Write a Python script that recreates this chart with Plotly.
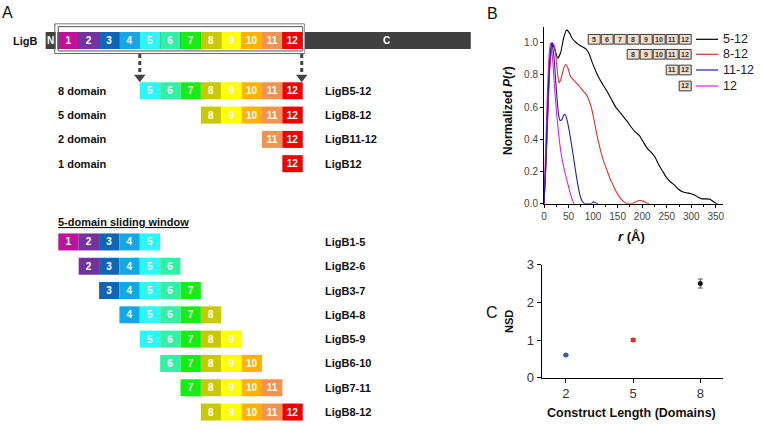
import plotly.graph_objects as go

W, H = 767, 431
FONT = "Liberation Sans, Arial, sans-serif"

# ---------------- DATA ----------------
domain_colors = {1: '#BF109E', 2: '#7233A0', 3: '#0E66B5', 4: '#14A6E6', 5: '#2CF6F6',
                 6: '#33F0A6', 7: '#14EE14', 8: '#C9C900', 9: '#FFFF00', 10: '#FFB300',
                 11: '#F49350', 12: '#F00000'}
ligb_domains = list(range(1, 13))

construct_labels = ["8 domain", "5 domain", "2 domain", "1 domain"]
construct_names = ["LigB5-12", "LigB8-12", "LigB11-12", "LigB12"]
construct_first = [5, 8, 11, 12]
construct_last = [12, 12, 12, 12]

window_first = [1, 2, 3, 4, 5, 6, 7, 8]
window_names = ["LigB1-5", "LigB2-6", "LigB3-7", "LigB4-8", "LigB5-9", "LigB6-10", "LigB7-11", "LigB8-12"]
window_size = 5

# P(r) curves
r_5_12 = [0, 4, 8, 12, 17, 22, 28, 34, 40, 46, 52, 58, 64, 70, 78, 86, 92, 98, 106, 114, 122, 130,
          138, 146, 154, 162, 170, 178, 186, 194, 202, 210, 218, 226, 234, 242, 250, 258, 266, 274,
          282, 290, 298, 306, 314, 322, 330, 338, 344, 350, 354]
p_5_12 = [0, 0.25, 0.6, 0.88, 1.0, 0.96, 0.905, 0.94, 1.03, 1.08, 1.06, 1.025, 1.005, 0.99, 0.975,
          0.96, 0.93, 0.88, 0.82, 0.77, 0.73, 0.69, 0.645, 0.60, 0.57, 0.54, 0.51, 0.475, 0.445,
          0.425, 0.385, 0.345, 0.32, 0.29, 0.24, 0.2, 0.16, 0.135, 0.115, 0.09, 0.075, 0.068, 0.063,
          0.055, 0.04, 0.03, 0.03, 0.028, 0.015, 0.003, 0]

r_8_12 = [0, 4, 8, 12, 17, 20, 24, 28, 31, 35, 40, 44, 48, 54, 60, 66, 72, 80, 87, 92, 97, 102, 107,
          112, 117, 122, 128, 134, 140, 146, 152, 158, 164, 170, 178, 186, 194, 202, 208, 214]
p_8_12 = [0, 0.25, 0.58, 0.85, 0.98, 0.99, 0.92, 0.8, 0.75, 0.78, 0.84, 0.865, 0.85, 0.79, 0.77,
          0.75, 0.73, 0.70, 0.675, 0.64, 0.59, 0.52, 0.44, 0.37, 0.31, 0.26, 0.21, 0.16, 0.12, 0.08,
          0.05, 0.025, 0.008, 0, 0, 0.01, 0.02, 0.016, 0.006, 0]

r_11_12 = [0, 4, 8, 12, 16, 20, 24, 28, 32, 36, 40, 43, 47, 51, 56, 61, 66, 70, 74, 78, 83, 96, 101, 106, 110]
p_11_12 = [0, 0.3, 0.65, 0.9, 1.0, 0.92, 0.76, 0.6, 0.52, 0.52, 0.55, 0.555, 0.52, 0.46, 0.37, 0.27,
           0.17, 0.1, 0.045, 0.015, 0, 0, 0.012, 0.004, 0]

r_12 = [0, 3, 7, 11, 14, 18, 22, 26, 30, 34, 38, 43, 48, 53, 57, 61]
p_12 = [0, 0.3, 0.7, 0.95, 1.0, 0.88, 0.7, 0.55, 0.43, 0.33, 0.26, 0.19, 0.13, 0.07, 0.03, 0]

curve_names = ["5-12", "8-12", "11-12", "12"]
curve_domains = [[5, 6, 7, 8, 9, 10, 11, 12], [8, 9, 10, 11, 12], [11, 12], [12]]

# NSD
nsd_length = [2, 5, 8]
nsd_value = [0.6, 1.0, 2.5]
nsd_error = [0.015, 0.04, 0.12]
nsd_xticks = [2, 5, 8]

# ---------------- LAYOUT CONSTANTS ----------------
ROW_LIGB = -2.07
construct_rows = [0, 1, 2, 3]
window_rows = [6.22 + i for i in range(8)]
BAR_H = 0.70
LIGB_START, LIGB_END = -0.62, 20.25
LABEL_X = -0.12
NAME_X = 13.0

c_line = {"5-12": "#000000", "8-12": "#E0302A", "11-12": "#1E1EB4", "12": "#E020E0"}


def px(x):
    return x / W


def py(y):
    return 1 - y / H


fig = go.Figure()

# ---- Panel A ----
fig.add_trace(go.Bar(orientation='h', y=[ROW_LIGB], x=[LIGB_END - LIGB_START], base=[LIGB_START],
                     width=BAR_H, marker=dict(color='#404040', line=dict(width=0)),
                     xaxis='x3', yaxis='y3', hoverinfo='skip'))


def domain_row(doms, row):
    fig.add_trace(go.Bar(orientation='h', y=[row] * len(doms), x=[1] * len(doms),
                         base=[d - 1 for d in doms], width=BAR_H,
                         marker=dict(color=[domain_colors[d] for d in doms], line=dict(width=0)),
                         text=[str(d) for d in doms], textposition='inside',
                         insidetextanchor='middle', textangle=0,
                         textfont=dict(color='white', size=10, family=FONT, weight='bold'),
                         xaxis='x3', yaxis='y3', hoverinfo='skip'))


domain_row(ligb_domains, ROW_LIGB)
for f, l, row in zip(construct_first, construct_last, construct_rows):
    domain_row(list(range(f, l + 1)), row)
for f, row in zip(window_first, window_rows):
    domain_row(list(range(f, f + window_size)), row)

shapes = []
# double outline box
shapes.append(dict(type='rect', xref='x3', yref='y3', x0=-0.17, x1=12.09, y0=-2.75, y1=-1.54,
                   line=dict(color='#555555', width=1)))
shapes.append(dict(type='rect', xref='x3', yref='y3', x0=-0.085, x1=12.045, y0=-2.695, y1=-1.59,
                   line=dict(color='white', width=1.6)))
shapes.append(dict(type='rect', xref='x3', yref='y3', x0=0.0, x1=12.0, y0=-2.64, y1=-1.64,
                   line=dict(color='#555555', width=1)))
# dashed arrows
for ax in [4.0, 11.95]:
    shapes.append(dict(type='line', xref='x3', yref='y3', x0=ax, x1=ax, y0=-1.51, y1=-0.66,
                       line=dict(color='#444444', width=3, dash='4px,3px')))
fig.add_trace(go.Scatter(x=[4.0, 11.95], y=[-0.56, -0.56], mode='markers',
                         marker=dict(symbol='triangle-down', size=10, color='#444444'),
                         xaxis='x3', yaxis='y3', hoverinfo='skip'))

annotations = []


def ann(text, x, y, ref='x3', size=11, bold=True, color='#111111', xanchor='left', **kw):
    a = dict(text=(f"<b>{text}</b>" if bold else text), x=x, y=y, xref=ref if ref != 'paper' else 'paper',
             yref=('y3' if ref == 'x3' else 'paper'), showarrow=False, xanchor=xanchor,
             yanchor='middle', font=dict(family=FONT, size=size, color=color))
    a.update(kw)
    annotations.append(a)


ann("LigB", -2.33, ROW_LIGB, size=11)
ann("N", -0.36, ROW_LIGB, size=10, color='white', xanchor='center')
ann("C", 16.12, ROW_LIGB, size=10, color='white', xanchor='center')
for lab, name, row in zip(construct_labels, construct_names, construct_rows):
    ann(lab, LABEL_X, row, size=11)
    ann(name, NAME_X, row, size=11)
ann('<span style="text-decoration:underline">5-domain sliding window</span>', LABEL_X, 5.40, size=11)
for name, row in zip(window_names, window_rows):
    ann(name, NAME_X, row, size=11)

# panel letters
ann("A", px(7.5), py(12.5), ref='paper', size=16, bold=False, xanchor='center')
ann("B", px(492), py(13), ref='paper', size=16, bold=False, xanchor='center')
ann("C", px(492), py(312), ref='paper', size=16, bold=False, xanchor='center')

# ---- Panel B ----
for name, rr, pp in [("5-12", r_5_12, p_5_12), ("8-12", r_8_12, p_8_12),
                     ("12", r_12, p_12), ("11-12", r_11_12, p_11_12)]:
    fig.add_trace(go.Scatter(x=rr, y=pp, mode='lines', line=dict(color=c_line[name], width=1.1,
                                                                   shape='spline', smoothing=0.5),
                             xaxis='x', yaxis='y', hoverinfo='skip'))

# custom legend
leg_rows = [39.3, 54.3, 70.0, 86.0]
BOX_W, BOX_H, BOX_RIGHT = 13.0, 9.7, 691.7
for name, doms, ly in zip(curve_names, curve_domains, leg_rows):
    n = len(doms)
    for i, d in enumerate(doms):
        x0 = BOX_RIGHT - (n - i) * BOX_W
        shapes.append(dict(type='rect', xref='paper', yref='paper', x0=px(x0 + 0.5), x1=px(x0 + BOX_W - 0.5),
                           y0=py(ly - BOX_H / 2), y1=py(ly + BOX_H / 2),
                           fillcolor='#F3DDCB', line=dict(color='#3a3a3a', width=1)))
        ann(str(d), px(x0 + BOX_W / 2), py(ly), ref='paper', size=7, color='#333333', xanchor='center')
    shapes.append(dict(type='line', xref='paper', yref='paper', x0=px(696), x1=px(718), y0=py(ly), y1=py(ly),
                       line=dict(color=c_line[name], width=1.2)))
    ann(name, px(721), py(ly), ref='paper', size=12.5, bold=False, color='#222222')

# axis titles B
ann("Normalized <i>P</i>(<i>r</i>)", px(508), py(111), ref='paper', size=12, xanchor='center', textangle=-90)
ann("<i>r</i> (Å)", px(631), py(236), ref='paper', size=13, xanchor='center')

# ---- Panel C ----
fig.add_trace(go.Scatter(x=nsd_length, y=nsd_value, mode='markers',
                         marker=dict(color=['#3A5BA8', '#E0302A', '#111111'], size=5),
                         error_y=dict(type='data', array=nsd_error, color='#555555', thickness=1, width=2.5),
                         xaxis='x2', yaxis='y2', hoverinfo='skip'))
ann("NSD", px(509), py(321), ref='paper', size=11, xanchor='center', textangle=-90)
ann("Construct Length (Domains)", px(631), py(413), ref='paper', size=12.5, xanchor='center')

axis_common = dict(showgrid=False, zeroline=False, showline=True, linecolor='black', linewidth=1,
                   ticks='outside', tickcolor='black', tickwidth=1)

fig.update_layout(
    width=W, height=H, margin=dict(l=0, r=0, t=0, b=0, autoexpand=False),
    paper_bgcolor='white', plot_bgcolor='rgba(0,0,0,0)',
    showlegend=False, barmode='overlay',
    font=dict(family=FONT),
    xaxis=dict(domain=[544 / W, 722.7 / W], range=[0, 364], anchor='y',
               tickvals=[0, 50, 100, 150, 200, 250, 300, 350], ticklen=3,
               minor=dict(dtick=25, ticklen=2, ticks='outside', tickcolor='black'),
               tickfont=dict(size=10, color='#444444', family=FONT), **axis_common),
    yaxis=dict(domain=[1 - 203.7 / H, 1 - 26.7 / H], range=[0, 1.1], anchor='x',
               tickvals=[0, 0.2, 0.4, 0.6, 0.8, 1.0], tickformat='.1f', ticklen=3,
               tickfont=dict(size=10, color='#444444', family=FONT), **axis_common),
    xaxis2=dict(domain=[541.7 / W, 722.7 / W], range=[0.92, 9], anchor='y2',
                tickvals=nsd_xticks, ticklen=4,
                tickfont=dict(size=13, color='#333333', family=FONT), **axis_common),
    yaxis2=dict(domain=[1 - 377.7 / H, 1 - 264.7 / H], range=[0, 3], anchor='x2',
                tickvals=[0, 1, 2, 3], ticklen=4,
                tickfont=dict(size=13, color='#333333', family=FONT), **axis_common),
    xaxis3=dict(domain=[0, 1], range=[-58.3 / 20.37, (W - 58.3) / 20.37], anchor='y3', visible=False),
    yaxis3=dict(domain=[0, 1], range=[(H - 90.8) / 24.3, -90.8 / 24.3], anchor='x3', visible=False),
    shapes=shapes, annotations=annotations,
)

fig.write_html("out.html", config={'displayModeBar': False},
               post_script="document.body.style.margin='0';document.body.style.overflow='hidden';")
